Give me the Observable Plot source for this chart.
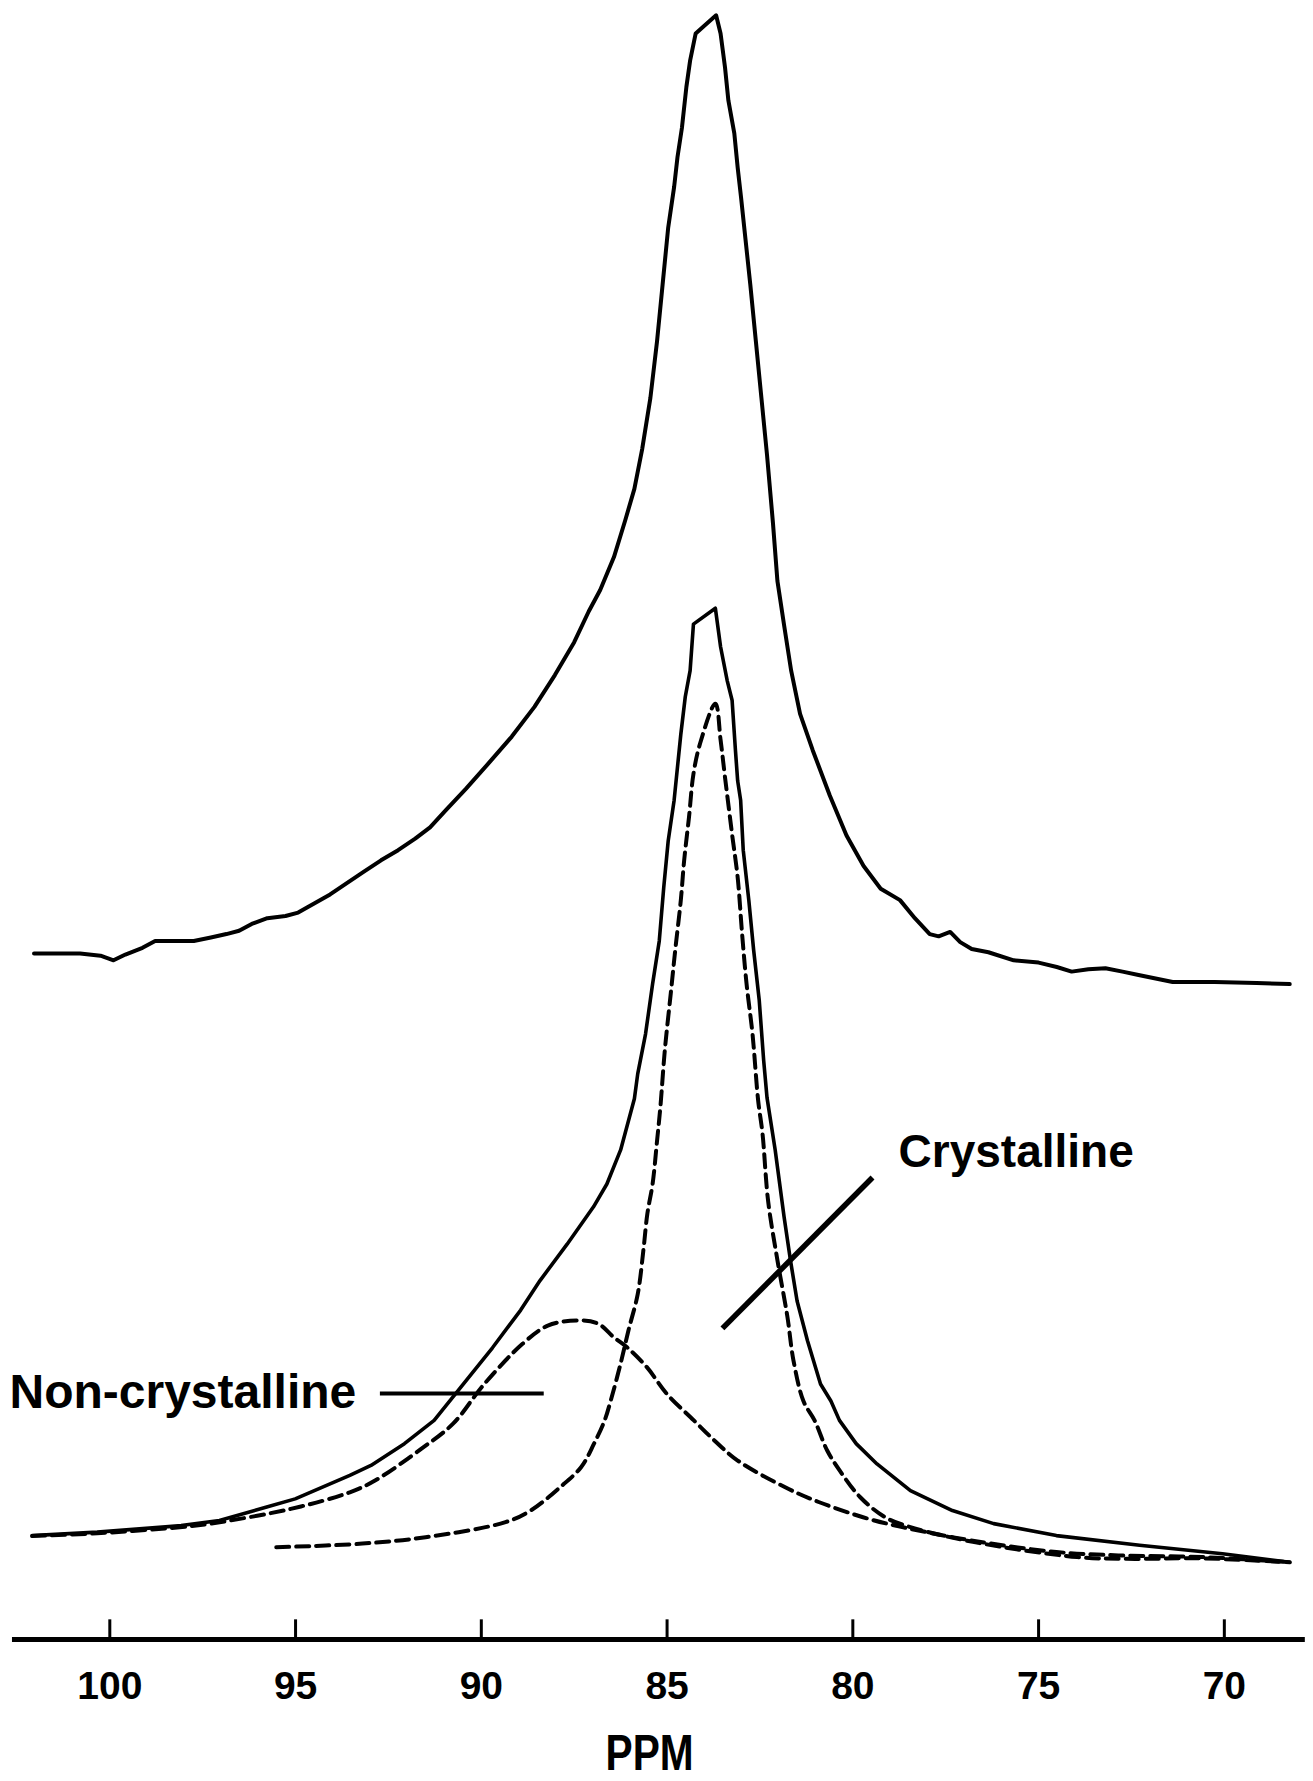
<!DOCTYPE html>
<html>
<head>
<meta charset="utf-8">
<script src="https://cdn.jsdelivr.net/npm/d3@7"></script>
<script src="https://cdn.jsdelivr.net/npm/@observablehq/plot@0.6"></script>
<style>
  html, body { margin: 0; padding: 0; background: #fff; }
  #chart svg { display: block; }
</style>
</head>
<body>
<div id="chart"></div>
<script>
// [ppm, intensity] – upper spectrum (offset)
const topSpectrum = [[102.04,41.86],[101.41,41.86],[100.80,41.86],[100.25,41.72],[99.90,41.44],[99.58,41.79],[99.12,42.20],[98.78,42.62],[98.35,42.62],[97.74,42.62],[97.28,42.83],[96.86,43.04],[96.52,43.24],[96.18,43.66],[95.76,44.01],[95.27,44.14],[94.93,44.35],[94.50,44.91],[94.07,45.46],[93.62,46.15],[93.16,46.85],[92.70,47.54],[92.24,48.16],[91.78,48.86],[91.38,49.55],[90.96,50.59],[90.41,51.91],[89.79,53.50],[89.18,55.09],[88.57,56.90],[88.02,58.84],[87.50,60.85],[87.11,62.72],[86.80,64.03],[86.43,66.04],[86.13,68.26],[85.88,70.20],[85.67,72.63],[85.45,75.74],[85.27,79.21],[85.12,82.67],[84.97,86.14],[84.81,88.63],[84.72,90.44],[84.60,92.24],[84.48,94.73],[84.38,96.33],[84.23,97.99],[83.99,98.48],[83.68,99.10],[83.56,97.99],[83.44,95.91],[83.35,93.90],[83.19,91.89],[83.10,89.81],[83.01,88.01],[82.89,85.45],[82.76,82.67],[82.61,79.21],[82.46,75.74],[82.31,72.28],[82.15,68.12],[82.03,64.59],[81.85,61.88],[81.66,59.11],[81.42,56.48],[81.08,54.26],[80.62,51.49],[80.17,49.06],[79.71,47.19],[79.25,45.81],[78.73,45.11],[78.33,44.01],[77.93,43.04],[77.69,42.90],[77.38,43.17],[77.11,42.55],[76.80,42.13],[76.35,41.93],[75.67,41.44],[75.00,41.30],[74.51,41.03],[74.11,40.75],[73.66,40.89],[73.20,40.96],[72.74,40.75],[72.31,40.54],[71.39,40.12],[70.26,40.12],[69.13,40.06],[68.24,39.99]];

// lower experimental spectrum
const lowerSpectrum = [[102.09,6.34],[100.34,6.55],[98.08,6.95],[97.05,7.26],[95.80,8.07],[95.01,8.58],[93.54,10.01],[92.97,10.62],[92.07,11.95],[91.27,13.37],[90.48,15.59],[89.70,17.80],[88.94,20.10],[88.42,21.90],[87.69,24.12],[86.98,26.40],[86.62,27.79],[86.25,29.87],[85.88,32.99],[85.79,34.51],[85.58,36.94],[85.39,39.99],[85.21,42.62],[85.09,45.88],[84.97,48.72],[84.81,51.21],[84.63,55.23],[84.51,57.52],[84.38,59.11],[84.29,61.95],[83.70,62.92],[83.56,60.57],[83.38,58.49],[83.25,57.31],[83.16,54.26],[83.10,52.39],[83.02,51.21],[82.95,48.16],[82.80,45.11],[82.67,42.07],[82.52,39.02],[82.40,35.34],[82.31,33.06],[82.09,29.87],[81.85,25.78],[81.68,23.15],[81.50,20.65],[81.22,18.23],[80.87,15.59],[80.59,14.55],[80.36,13.37],[79.91,11.95],[79.35,10.71],[78.45,9.08],[77.32,7.87],[76.21,7.07],[74.52,6.34],[72.28,5.75],[70.05,5.23],[68.24,4.71]];

// crystalline component (dashed)
const crystalline = [[95.52,5.63],[93.20,5.85],[91.50,6.24],[89.35,7.16],[88.67,7.87],[87.88,9.29],[87.31,10.53],[86.97,11.93],[86.68,13.37],[86.52,14.55],[86.25,16.84],[86.04,18.85],[85.79,21.07],[85.64,23.70],[85.53,25.99],[85.39,27.79],[85.27,30.42],[85.18,32.50],[85.06,35.97],[84.90,39.43],[84.78,42.07],[84.63,45.11],[84.54,47.54],[84.41,50.17],[84.29,52.81],[84.11,54.68],[83.70,57.10],[83.56,54.89],[83.44,52.60],[83.25,49.13],[83.10,46.50],[82.98,43.04],[82.86,39.99],[82.70,36.94],[82.55,32.92],[82.43,30.84],[82.28,26.75],[82.03,23.15],[81.76,19.68],[81.60,17.05],[81.33,14.55],[81.03,13.37],[80.69,11.53],[80.36,10.33],[79.80,8.68],[79.13,7.46],[78.45,6.86],[76.77,5.96],[73.96,5.03],[72.62,4.92],[70.60,4.95],[68.24,4.71]];

// non-crystalline component (dashed)
const nonCrystalline = [[102.09,6.31],[100.34,6.48],[98.05,6.86],[97.28,7.07],[95.13,7.97],[93.54,8.98],[92.86,9.70],[91.61,11.64],[90.76,13.17],[89.92,15.59],[88.89,18.04],[88.21,19.15],[87.41,19.47],[86.86,19.27],[86.43,18.43],[86.07,17.81],[85.55,16.63],[85.00,14.97],[84.28,13.37],[83.72,12.13],[83.10,10.92],[81.82,9.29],[80.92,8.39],[79.59,7.37],[78.67,6.86],[76.77,6.03],[74.52,5.34],[72.85,5.13],[70.60,5.03],[68.24,4.71]];

const tickValues = [100, 95, 90, 85, 80, 75, 70];
const tickLabels = ["100", "95", "90", "85", "80", "75", "70"];
const axisTitle = "PPM";
const axisTitlePpm = 85.47;
const axisExtent = [102.62, 67.82];

const labelTexts = ["Non-crystalline", "Crystalline"];
const labelPpm = [102.70, 78.77];
const labelInt = [15.04, 29.71];
const labelSize = [48, 46];

const leaderStart = [[92.73, 15.01], [83.51, 18.98]];
const leaderEnd = [[88.32, 15.01], [79.47, 28.19]];
const leaderWidth = [4, 5.5];

const labels = labelTexts.map((t, i) => ({text: t, ppm: labelPpm[i], v: labelInt[i], size: labelSize[i]}));
const leaders = leaderStart.map((s, i) => ({x1: s[0], y1: s[1], x2: leaderEnd[i][0], y2: leaderEnd[i][1], w: leaderWidth[i]}));
const ticks = tickValues.map((v, i) => ({v, label: tickLabels[i]}));

const dash = "13,7";

const chart = Plot.plot({
  width: 1313,
  height: 1781,
  marginLeft: 9,
  marginRight: 0,
  marginTop: 0,
  marginBottom: 142,
  style: {background: "#fff", fontFamily: "'Liberation Sans', Arial, sans-serif", overflow: "visible"},
  x: {domain: [102.7, 67.6], axis: null},
  y: {domain: [0, 100], axis: null},
  marks: [
    Plot.line(topSpectrum, {x: d => d[0], y: d => d[1], stroke: "#000", strokeWidth: 4, strokeLinejoin: "round", curve: "linear"}),
    Plot.line(lowerSpectrum, {x: d => d[0], y: d => d[1], stroke: "#000", strokeWidth: 3.6, strokeLinejoin: "round", curve: "linear"}),
    Plot.line(crystalline, {x: d => d[0], y: d => d[1], stroke: "#000", strokeWidth: 4, strokeDasharray: dash, curve: "catmull-rom"}),
    Plot.line(nonCrystalline, {x: d => d[0], y: d => d[1], stroke: "#000", strokeWidth: 4, strokeDasharray: dash, curve: "catmull-rom"}),
    Plot.ruleY([0], {x1: axisExtent[0], x2: axisExtent[1], stroke: "#000", strokeWidth: 5}),
    Plot.ruleX(ticks, {x: "v", y1: 0, y2: 1.2, stroke: "#000", strokeWidth: 3}),
    Plot.text(ticks, {x: "v", y: 0, dy: 47, text: "label", fontSize: 39, fontWeight: "bold", fill: "#000", lineAnchor: "middle"}),
    Plot.text([axisTitle], {x: axisTitlePpm, y: 0, dy: 114, text: d => d, fontSize: 50, fontWeight: "bold", fill: "#000", lineAnchor: "middle", className: "ppm-title"}),
    Plot.link(leaders, {x1: "x1", y1: "y1", x2: "x2", y2: "y2", stroke: "#000", strokeWidth: "w"}),
    Plot.text(labels, {x: "ppm", y: "v", text: "text", fontSize: "size", fontWeight: "bold", fill: "#000", textAnchor: "start", lineAnchor: "middle"})
  ]
});
// condensed look of the axis title, as in the original typesetting
d3.select(chart).selectAll(".ppm-title text")
  .attr("textLength", 88)
  .attr("lengthAdjust", "spacingAndGlyphs");
document.getElementById("chart").appendChild(chart);
</script>
</body>
</html>
